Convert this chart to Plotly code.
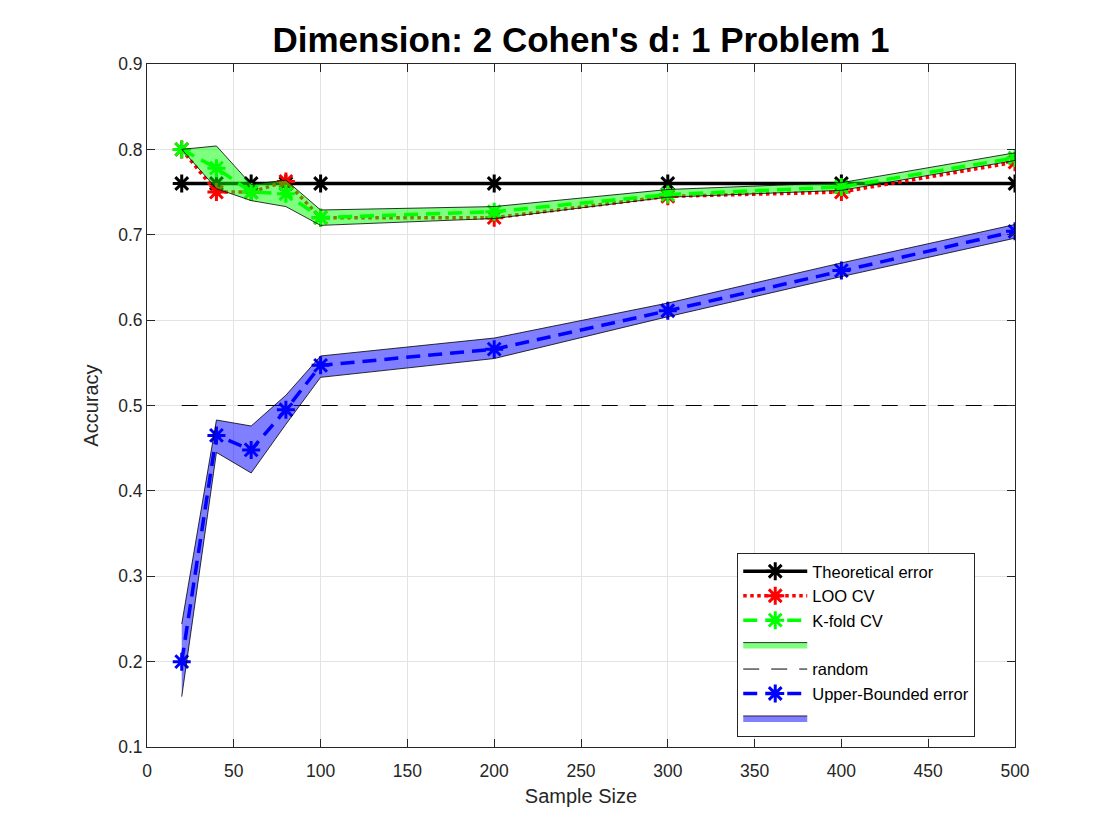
import plotly.graph_objects as go

# sample sizes on the x axis
sample_sizes = [20, 40, 60, 80, 100, 200, 300, 400, 500]

# accuracy curves
theoretical = [0.76, 0.76, 0.76, 0.76, 0.76, 0.76, 0.76, 0.76, 0.76]
loo_cv = [0.80, 0.75, 0.75, 0.7625, 0.72, 0.72, 0.745, 0.75, 0.785]
kfold_cv = [0.80, 0.778, 0.75, 0.748, 0.72, 0.727, 0.747, 0.756, 0.79]
kfold_hi = [0.80, 0.804, 0.759, 0.764, 0.729, 0.733, 0.753, 0.761, 0.796]
kfold_lo = [0.80, 0.754, 0.74, 0.733, 0.711, 0.719, 0.744, 0.752, 0.787]
upper_bound = [0.20, 0.465, 0.448, 0.495, 0.547, 0.566, 0.611, 0.658, 0.704]
upper_hi = [0.244, 0.483, 0.476, 0.512, 0.558, 0.579, 0.620, 0.667, 0.712]
upper_lo = [0.159, 0.445, 0.421, 0.478, 0.533, 0.555, 0.604, 0.651, 0.696]
random_x = [20, 500]
random_y = [0.5, 0.5]

FONT = "Liberation Sans, Arial, Helvetica, sans-serif"


def star(color):
    return dict(symbol="asterisk-open", size=15,
                color=color, line=dict(color=color, width=3))


def band(x, hi, lo, fill):
    """polygon between upper and lower bound"""
    return go.Scatter(x=x + x[::-1], y=hi + lo[::-1], mode="lines",
                      fill="toself", fillcolor=fill,
                      line=dict(color="black", width=0.8), name="",
                      hoverinfo="skip")


fig = go.Figure()
fig.add_trace(go.Scatter(x=sample_sizes, y=theoretical, mode="lines+markers",
                         name="Theoretical error",
                         line=dict(color="black", width=3.5),
                         marker=star("black")))
fig.add_trace(go.Scatter(x=sample_sizes, y=loo_cv, mode="lines+markers",
                         name="LOO CV",
                         line=dict(color="red", width=3.5, dash="dot"),
                         marker=star("red")))
fig.add_trace(go.Scatter(x=sample_sizes, y=kfold_cv, mode="lines+markers",
                         name="K-fold CV",
                         line=dict(color="#00ff00", width=3.5, dash="14px,8px"),
                         marker=star("#00ff00")))
fig.add_trace(band(sample_sizes, kfold_hi, kfold_lo, "rgba(0,255,0,0.5)"))
fig.add_trace(go.Scatter(x=random_x, y=random_y, mode="lines", name="random",
                         line=dict(color="black", width=1, dash="16px,12px")))
fig.add_trace(go.Scatter(x=sample_sizes, y=upper_bound, mode="lines+markers",
                         name="Upper-Bounded error",
                         line=dict(color="blue", width=3.5, dash="14px,8px"),
                         marker=star("blue")))
fig.add_trace(band(sample_sizes, upper_hi, upper_lo, "rgba(0,0,255,0.5)"))

axis_style = dict(showline=True, linecolor="#262626", linewidth=1, mirror="ticks",
                  ticks="inside", ticklen=8, tickcolor="#262626",
                  showgrid=True, gridcolor="#e3e3e3", gridwidth=1,
                  zeroline=False, tickfont=dict(size=17.5, color="#262626"),
                  title_font=dict(size=20, color="#262626"))

# page body adds ~8px, so the figure is a bit smaller than the window
fig.update_layout(
    width=1104, height=824,
    paper_bgcolor="white", plot_bgcolor="white",
    font=dict(family=FONT, color="#262626"),
    margin=dict(l=139, r=97, t=56, b=85),
    title=dict(text="<b>Dimension: 2 Cohen's d: 1 Problem 1</b>",
               x=0.519, xanchor="center", y=0.962, yanchor="middle",
               font=dict(size=35, color="black")),
    xaxis=dict(axis_style, range=[0, 500], tick0=0, dtick=50,
               ticklabelstandoff=8,
               title=dict(text="Sample Size", standoff=8)),
    yaxis=dict(axis_style, range=[0.1, 0.9], tick0=0.1, dtick=0.1,
               tickformat=".1f", title=dict(text="Accuracy", standoff=14)),
    legend=dict(x=0.68, y=0.284, xanchor="left", yanchor="top",
                bgcolor="white", bordercolor="#262626", borderwidth=1,
                font=dict(size=16.5, color="black"), itemwidth=64,
                tracegroupgap=0),
    showlegend=True,
)

fig.write_html("out.html")
